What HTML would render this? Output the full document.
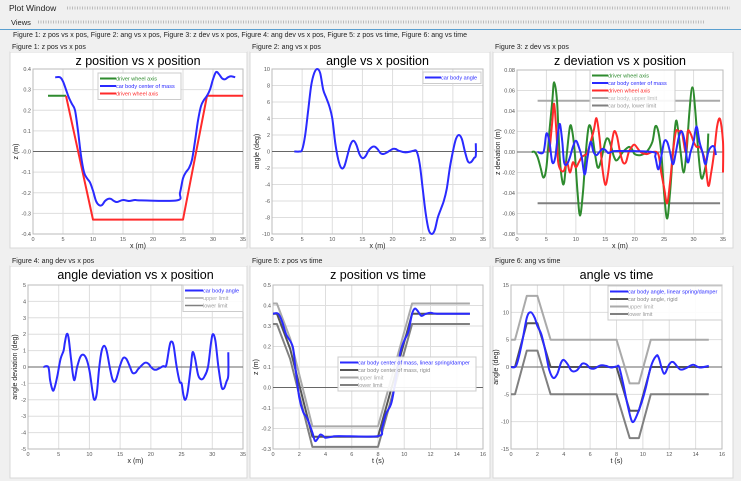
<!DOCTYPE html>
<html><head><meta charset="utf-8"><style>
body{margin:0;width:741px;height:481px;background:#f0f0f0;font-family:"Liberation Sans",sans-serif;overflow:hidden}
svg{position:absolute;left:0;top:0}
</style></head><body>
<svg id="s" width="741" height="481" xmlns="http://www.w3.org/2000/svg" font-family="Liberation Sans, sans-serif">
<rect x="0" y="0" width="741" height="481" fill="#f0f0f0"/>
<text x="9" y="11" font-size="8.5" fill="#222">Plot Window</text>
<line x1="67" y1="8" x2="730" y2="8" stroke="#bbb" stroke-dasharray="1,1.5" stroke-width="3"/>
<text x="11" y="25" font-size="7.5" fill="#222">Views</text>
<line x1="38" y1="22" x2="705" y2="22" stroke="#bbb" stroke-dasharray="1,1.5" stroke-width="3"/>
<line x1="0" y1="29.5" x2="741" y2="29.5" stroke="#5a9fd0" stroke-width="1"/>
<text x="13" y="37" font-size="7" fill="#222">Figure 1: z pos vs x pos, Figure 2: ang vs x pos, Figure 3: z dev vs x pos, Figure 4: ang dev vs x pos, Figure 5: z pos vs time, Figure 6: ang vs time</text>
<g id="g"></g>
</svg>
<script>
var g=document.getElementById('g'),NS='http://www.w3.org/2000/svg';
function el(t,a,txt){var e=document.createElementNS(NS,t);for(var k in a)e.setAttribute(k,a[k]);if(txt!=null)e.textContent=txt;g.appendChild(e);return e;}
function smooth(p){if(p.length<3)return 'M'+p.map(function(q){return q[0].toFixed(1)+','+q[1].toFixed(1)}).join('L');
var d='M'+p[0][0].toFixed(1)+','+p[0][1].toFixed(1);
for(var i=0;i<p.length-1;i++){var p0=p[i-1]||p[i],p1=p[i],p2=p[i+1],p3=p[i+2]||p2;
var c1=[p1[0]+(p2[0]-p0[0])/6,p1[1]+(p2[1]-p0[1])/6],c2=[p2[0]-(p3[0]-p1[0])/6,p2[1]-(p3[1]-p1[1])/6];
d+='C'+c1[0].toFixed(1)+','+c1[1].toFixed(1)+' '+c2[0].toFixed(1)+','+c2[1].toFixed(1)+' '+p2[0].toFixed(1)+','+p2[1].toFixed(1);}return d;}
function panel(o){
 // frame
 el('rect',{x:o.fx,y:o.fy,width:o.fw,height:o.fh,fill:'#fff',stroke:'#d8d8d8'});
 el('rect',{x:o.fx,y:o.fy-11,width:o.fw,height:11,fill:'#f0f0f0'});
 el('text',{x:o.fx+2,y:o.fy-3,'font-size':7,fill:'#222'},o.head);
 el('text',{x:(o.x0+o.x1)/2,y:o.ty,'font-size':12.5,'text-anchor':'middle',fill:'#000'},o.title);
 var X=function(v){return o.x0+(v-o.xmin)/(o.xmax-o.xmin)*(o.x1-o.x0)},Y=function(v){return o.y1-(v-o.ymin)/(o.ymax-o.ymin)*(o.y1-o.y0)};
 o.X=X;o.Y=Y;
 for(var v=o.xmin;v<=o.xmax+1e-9;v+=o.xs){var x=X(v);el('line',{x1:x,y1:o.y0,x2:x,y2:o.y1,stroke:'#dedede','stroke-width':1});
  el('text',{x:x,y:o.y1+7,'font-size':5.5,'text-anchor':'middle',fill:'#555'},+v.toFixed(2));}
 for(var v=o.ymin;v<=o.ymax+1e-9;v+=o.ys){var y=Y(v);el('line',{x1:o.x0,y1:y,x2:o.x1,y2:y,stroke:'#dedede','stroke-width':1});
  el('text',{x:o.x0-2,y:y+2,'font-size':5.5,'text-anchor':'end',fill:'#555'},o.fmt(v));}
 el('rect',{x:o.x0,y:o.y0,width:o.x1-o.x0,height:o.y1-o.y0,fill:'none',stroke:'#bbb'});
 el('line',{x1:o.x0,y1:Y(0),x2:o.x1,y2:Y(0),stroke:'#666','stroke-width':1});
 el('text',{x:(o.x0+o.x1)/2,y:o.y1+14,'font-size':7,'text-anchor':'middle',fill:'#222'},o.xl);
 var yc=(o.y0+o.y1)/2;el('text',{x:o.ylx,y:yc,'font-size':7,'text-anchor':'middle',fill:'#222',transform:'rotate(-90 '+o.ylx+' '+yc+')'},o.yl);
 o.series.forEach(function(s){var p=s.d.map(function(q){return [X(q[0]),Y(q[1])]});
  el('path',{d:s.lin?('M'+p.map(function(q){return q[0].toFixed(1)+','+q[1].toFixed(1)}).join('L')):smooth(p),fill:'none',stroke:s.c,'stroke-width':s.w||2,'stroke-linejoin':'round'});});
 if(o.leg){var L=o.leg;el('rect',{x:L.x,y:L.y,width:L.w,height:o.series.length*7.5+4,fill:'#fff','fill-opacity':0.9,stroke:'#ccc'});
  var arr=L.order||o.series;
  arr.forEach(function(s,i){var y=L.y+5.5+i*7.5;el('line',{x1:L.x+2,y1:y,x2:L.x+L.lw,y2:y,stroke:s.c,'stroke-width':s.w||2});
   el('text',{x:L.x+L.lw,y:y+2,'font-size':5.5,fill:s.tc||s.c},s.n);});}
}
var f2=function(v){return v.toFixed(1)},f0=function(v){return ''+Math.round(v)},f3=function(v){return v.toFixed(2)};
var BL='#2a2aff',GR='#2e8b2e',RD='#ff2a2a',LG='#aaaaaa',DG='#808080';
// Panel 1
panel({fx:10,fy:52,fw:237,fh:196,head:'Figure 1: z pos vs x pos',title:'z position vs x position',ty:65,x0:33,x1:243,y0:69,y1:234,xmin:0,xmax:35,xs:5,ymin:-0.4,ymax:0.4,ys:0.1,fmt:f2,xl:'x (m)',yl:'z (m)',ylx:18,
 series:[{n:'driver wheel axis',c:GR,d:[[2.5,0.27],[5.5,0.27]],lin:1},
 {n:'driven wheel axis',c:RD,d:[[5.5,0.27],[10,-0.33],[25,-0.33],[29,0.27],[35,0.27]],lin:1},
 {n:'car body center of mass',c:BL,d:[[3.7,0.36],[4.5,0.36],[5,0.34],[5.5,0.3],[6,0.26],[6.5,0.23],[7,0.2],[7.5,0.1],[8,-0.02],[8.5,-0.1],[9,-0.13],[9.5,-0.15],[10,-0.19],[10.5,-0.24],[11,-0.26],[11.5,-0.26],[12,-0.24],[12.5,-0.23],[13,-0.23],[13.5,-0.24],[14,-0.245],[15,-0.235],[16,-0.24],[17,-0.235],[18,-0.237],[24,-0.237],[24.5,-0.2],[25,-0.13],[25.5,-0.1],[26,-0.08],[26.5,-0.04],[27,0.05],[27.5,0.15],[28,0.22],[28.5,0.25],[29,0.27],[29.5,0.3],[30,0.35],[30.5,0.385],[31,0.375],[31.5,0.355],[32,0.35],[32.5,0.36],[33,0.365],[33.7,0.36]]}],
 leg:{x:98,y:73,w:83,lw:18,order:[{n:'driver wheel axis',c:GR},{n:'car body center of mass',c:BL},{n:'driven wheel axis',c:RD}]}});
// Panel 2
panel({fx:250,fy:52,fw:240,fh:196,head:'Figure 2: ang vs x pos',title:'angle vs x position',ty:65,x0:272,x1:483,y0:69,y1:234,xmin:0,xmax:35,xs:5,ymin:-10,ymax:10,ys:2,fmt:f0,xl:'x (m)',yl:'angle (deg)',ylx:259,
 series:[{n:'car body angle',c:BL,d:[[3.7,0],[4.5,0],[5,0.2],[5.5,2],[6,5],[6.5,8],[7,9.5],[7.5,10],[8,9.5],[8.5,7.5],[9,6.5],[9.5,5.5],[10,4],[10.5,1],[11,-1],[11.5,-2],[12,-1.8],[12.5,-0.5],[13,0.8],[13.5,1.3],[14,0.8],[14.5,-0.3],[15,-0.8],[15.5,-0.6],[16,0.1],[16.5,0.5],[17,0.6],[17.5,0.3],[18,-0.2],[18.5,-0.3],[19,-0.15],[20,0.3],[20.5,0.3],[21,0.1],[22,-0.1],[23,0],[23.5,0.1],[24,0],[24.5,-1.5],[25,-4.5],[25.5,-7.5],[26,-9.5],[26.5,-10],[27,-9.5],[27.5,-8],[28,-7],[28.5,-6],[29,-4.5],[29.5,-2],[30,0],[30.5,1.5],[31,2],[31.5,1.5],[32,0],[32.5,-1.2],[33,-1.3],[33.5,-0.8],[33.8,-0.5],[33.8,1]]}],
 leg:{x:423,y:72,w:58,lw:18}});
// Panel 3
panel({fx:493,fy:52,fw:240,fh:196,head:'Figure 3: z dev vs x pos',title:'z deviation vs x position',ty:65,x0:517,x1:723,y0:70,y1:234,xmin:0,xmax:35,xs:5,ymin:-0.08,ymax:0.08,ys:0.02,fmt:f3,xl:'x (m)',yl:'z deviation (m)',ylx:500,
 series:[{n:'car body, upper limit',c:LG,d:[[3.5,0.05],[34.5,0.05]],lin:1,tc:'#bbb'},
 {n:'car body, lower limit',c:DG,d:[[3.5,-0.05],[34.5,-0.05]],lin:1,tc:'#999'},
 {n:'driver wheel axis',c:GR,d:[[2.5,0],[3,0],[3.5,-0.005],[4,-0.015],[4.5,-0.025],[5,-0.015],[5.5,0.02],[6,0.05],[6.3,0.068],[6.8,0.05],[7.2,0],[7.6,-0.025],[8,-0.03],[8.5,0],[9,0.025],[9.4,0.02],[9.8,0],[10.3,-0.04],[10.7,-0.062],[11.2,-0.04],[11.7,0],[12.2,0.025],[12.7,0.02],[13.2,0],[13.7,-0.015],[14.2,-0.01],[15,0.01],[15.5,0.013],[16,0.005],[16.5,-0.005],[17,-0.008],[18,0],[19,0.005],[19.5,0.003],[20,-0.002],[21,-0.003],[22,0],[23,0.01],[23.5,0.025],[24,0.02],[24.5,0],[25,-0.04],[25.5,-0.065],[26,-0.04],[26.5,0],[27,0.03],[27.4,0.02],[27.8,0],[28.3,-0.02],[28.8,0],[29.3,0.04],[29.8,0.063],[30.3,0.04],[30.8,0],[31.3,-0.025],[31.8,-0.02],[32.3,-0.005],[32.5,0.018]]},
 {n:'driven wheel axis',c:RD,d:[[5.5,0],[6,0.03],[6.3,0.047],[6.7,0.02],[7,-0.01],[7.5,-0.018],[8,-0.018],[8.5,-0.01],[9,-0.02],[9.5,-0.01],[10,-0.015],[10.5,-0.01],[11,-0.005],[11.5,-0.003],[12,0],[13,0.02],[13.5,0.033],[14,0.015],[14.5,-0.015],[15,-0.032],[15.5,-0.02],[16,0.005],[16.5,0.02],[17,0.015],[17.5,0],[18,-0.01],[18.5,-0.01],[19,0],[19.5,0.005],[20,0.007],[21,0],[22,-0.002],[23,0],[24,-0.002],[24.5,-0.02],[25,-0.035],[25.5,-0.05],[26,-0.03],[26.5,0],[27,0.02],[27.5,0.02],[28,0.02],[28.3,0.01],[28.7,0],[29,0.02],[29.5,0.018],[30,0.01],[30.5,0.005],[31,0.005],[31.5,0],[32,-0.01],[32.5,-0.033],[33,-0.02],[33.5,0],[34,0.025],[34.5,0.032],[35,0.01],[35,-0.02]]},
 {n:'car body center of mass',c:BL,d:[[3.5,0],[4.5,0],[5,0.018],[5.5,0.01],[6,-0.01],[6.5,-0.005],[7,0.02],[7.3,0.027],[7.7,0.01],[8,-0.01],[8.5,-0.012],[9,-0.005],[9.5,0.005],[10,0.011],[10.5,0.005],[11,-0.005],[11.5,-0.022],[12,-0.005],[12.5,0.01],[13,0],[13.5,-0.003],[14,0],[14.5,0.003],[15,0.002],[15.5,-0.001],[16,0],[17,0.001],[23,0],[23.5,-0.005],[24,-0.017],[24.5,-0.005],[25,0.01],[25.5,0.01],[26,0],[26.5,-0.012],[27,0],[27.5,0.015],[28,0.02],[28.5,0.01],[29,-0.01],[29.5,0],[30,0.01],[30.5,0.025],[31,0.01],[31.5,0],[32,-0.012],[32.5,0],[33,0.005],[33.5,0.005],[33.8,-0.003]]}],
 leg:{x:590,y:70,w:85,lw:18,order:[{n:'driver wheel axis',c:GR},{n:'car body center of mass',c:BL},{n:'driven wheel axis',c:RD},{n:'car body, upper limit',c:LG,tc:'#bbb'},{n:'car body, lower limit',c:DG,tc:'#999'}]}});
// Panel 4
panel({fx:10,fy:266,fw:237,fh:212,head:'Figure 4: ang dev vs x pos',title:'angle deviation vs x position',ty:279,x0:28,x1:243,y0:285,y1:449,xmin:0,xmax:35,xs:5,ymin:-5,ymax:5,ys:1,fmt:f0,xl:'x (m)',yl:'angle deviation (deg)',ylx:17,
 series:[{n:'car body angle',c:BL,d:[[2.5,0],[3.3,0],[3.6,-0.8],[4,-1.4],[4.3,-1.3],[4.8,-0.5],[5.3,0.5],[5.8,1],[6,1.5],[6.3,2],[6.6,1.8],[7,0.5],[7.5,-0.8],[8,0],[8.5,0.6],[9,0.75],[9.5,0.5],[10,-0.2],[10.5,-1.5],[10.8,-2],[11.2,-1.6],[11.6,0],[12,1],[12.4,1.3],[12.8,1],[13.3,0],[13.8,-0.8],[14.3,-0.8],[15,0.1],[15.5,0.55],[16,0.5],[16.5,0.1],[17,-0.35],[17.5,-0.35],[18,-0.1],[19,0.25],[19.6,0.2],[20,0],[20.5,-0.15],[21,-0.15],[22,0.05],[22.5,0.1],[23,1.2],[23.3,1.55],[23.7,1.3],[24.2,0],[24.7,-0.9],[25,-1],[25.3,-1.7],[25.6,-2],[26,-1.5],[26.5,0],[26.8,0.9],[27.2,0.5],[27.7,-0.5],[28.2,-0.75],[28.7,-0.6],[29.3,0],[29.8,1.5],[30.1,2],[30.5,1.6],[31,0],[31.5,-1.2],[31.9,-1.3],[32.3,-0.9],[32.6,-0.5],[32.6,0.9]]},
  {n:'upper limit',c:LG,d:[[0,99],[0,99]],w:1.5,tc:'#aaa'},{n:'lower limit',c:DG,d:[[0,99],[0,99]],w:1.5,tc:'#999'}],
 leg:{x:183,y:285,w:60,lw:20}});
// Panel 5
var up5=[[0,0.41],[0.3,0.41],[1.3,0.24],[3,-0.19],[8,-0.19],[10.6,0.41],[15,0.41]],lo5=up5.map(function(q){return [q[0],q[1]-0.1]}),mid5=up5.map(function(q){return [q[0],q[1]-0.05]});
panel({fx:250,fy:266,fw:240,fh:212,head:'Figure 5: z pos vs time',title:'z position vs time',ty:279,x0:273,x1:483,y0:285,y1:449,xmin:0,xmax:16,xs:2,ymin:-0.3,ymax:0.5,ys:0.1,fmt:f2,xl:'t (s)',yl:'z (m)',ylx:258,
 series:[{n:'upper limit',c:LG,d:up5,lin:1,tc:'#aaa'},{n:'lower limit',c:DG,d:lo5,lin:1,tc:'#999'},{n:'car body center of mass, rigid',c:'#555',d:mid5,lin:1,tc:'#888'},
 {n:'car body center of mass, linear spring/damper',c:BL,d:[[0,0.36],[0.4,0.36],[0.7,0.32],[1,0.26],[1.5,0.2],[1.7,0.1],[2,-0.05],[2.3,-0.12],[2.6,-0.15],[3,-0.22],[3.2,-0.26],[3.4,-0.25],[3.6,-0.23],[3.8,-0.235],[4,-0.245],[4.5,-0.24],[5,-0.237],[8,-0.237],[8.3,-0.2],[8.6,-0.13],[9,-0.08],[9.3,0.02],[9.7,0.17],[10,0.23],[10.3,0.27],[10.6,0.36],[10.8,0.385],[11,0.375],[11.3,0.35],[11.6,0.358],[12,0.365],[12.5,0.36],[15,0.36]]}],
 leg:{x:338,y:357,w:138,lw:20,order:[{n:'car body center of mass, linear spring/damper',c:BL},{n:'car body center of mass, rigid',c:'#555',tc:'#888'},{n:'upper limit',c:LG,tc:'#aaa'},{n:'lower limit',c:DG,tc:'#999'}]}});
// Panel 6
var up6=[[0,5],[0.3,5],[1.2,13],[2,13],[3,5],[8,5],[9,-3],[9.7,-3],[10.6,5],[15,5]],lo6=up6.map(function(q){return [q[0],q[1]-10]}),mid6=up6.map(function(q){return [q[0],q[1]-5]});
panel({fx:493,fy:266,fw:240,fh:212,head:'Figure 6: ang vs time',title:'angle vs time',ty:279,x0:511,x1:722,y0:285,y1:449,xmin:0,xmax:16,xs:2,ymin:-15,ymax:15,ys:5,fmt:f0,xl:'t (s)',yl:'angle (deg)',ylx:498,
 series:[{n:'upper limit',c:LG,d:up6,lin:1,tc:'#aaa'},{n:'lower limit',c:DG,d:lo6,lin:1,tc:'#999'},{n:'car body angle, rigid',c:'#555',d:mid6,lin:1,tc:'#888'},
 {n:'car body angle, linear spring/damper',c:BL,d:[[0,0],[0.4,0.3],[0.8,4],[1.2,9],[1.5,10],[1.8,9],[2,7.5],[2.3,6],[2.6,3],[2.9,-0.5],[3.2,-2],[3.5,-1.3],[3.8,0.8],[4,1.3],[4.3,0.5],[4.6,-0.7],[5,-0.6],[5.4,0.6],[5.7,0.5],[6,-0.2],[6.3,-0.3],[6.8,0.3],[7.2,0.2],[7.6,-0.1],[8,0.1],[8.2,0],[8.5,-3],[8.8,-6.5],[9.1,-9.5],[9.3,-10],[9.6,-8.5],[9.9,-6.5],[10.2,-4],[10.6,0],[11,2],[11.2,1.7],[11.6,-1.2],[12,0.5],[12.3,0.9],[12.8,-0.4],[13.2,-0.3],[13.8,0.4],[14.3,-0.1],[15,0.2]]}],
 leg:{x:608,y:286,w:114,lw:20,order:[{n:'car body angle, linear spring/damper',c:BL},{n:'car body angle, rigid',c:'#555',tc:'#888'},{n:'upper limit',c:LG,tc:'#aaa'},{n:'lower limit',c:DG,tc:'#999'}]}});
</script>
</body></html>
